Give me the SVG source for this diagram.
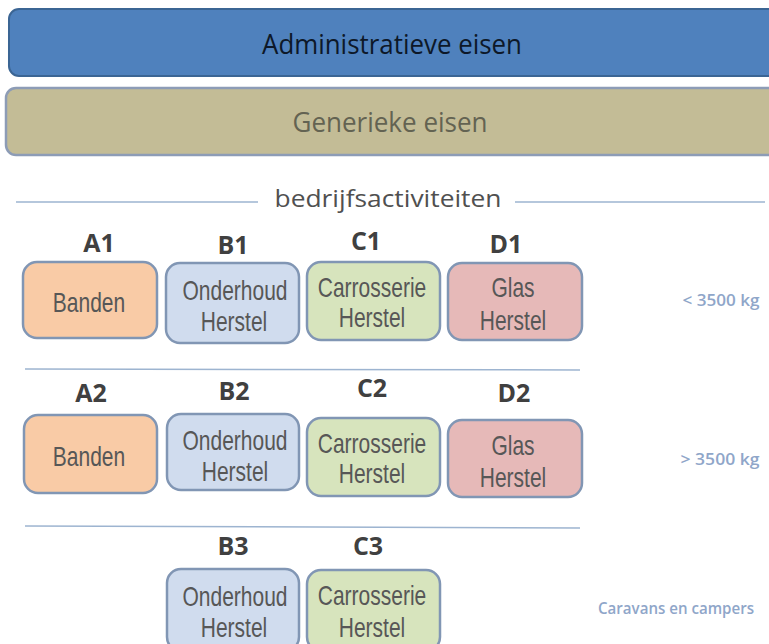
<svg xmlns="http://www.w3.org/2000/svg" width="769" height="644" viewBox="0 0 769 644">
<style>
.box{stroke:#8196b4;stroke-width:2.5}
.or{fill:#f9cba6}
.bl{fill:#d0dcee}
.gr{fill:#d7e4bd}
.rd{fill:#e6b9b8}
.bt{font-family:"Liberation Sans",Arial,sans-serif;font-size:21px;fill:#575757;text-anchor:middle}
.lb{font-family:"Open Sans","Liberation Sans",sans-serif;font-size:25px;font-weight:bold;fill:#404040;text-anchor:middle}
.kg{font-family:"Open Sans","Liberation Sans",sans-serif;font-size:17px;font-weight:600;fill:#8fa6c9;text-anchor:middle}
.sep{stroke:#9db4d0;stroke-width:1.5;fill:none}
</style>
<rect width="769" height="644" fill="#ffffff"/>
<g id="admin">
<rect x="9" y="9" width="772" height="67" rx="10" fill="#4f81bd" stroke="#3b6594" stroke-width="2"/>
<text transform="translate(392,54) scale(1,1.12)" font-family="'Open Sans','Liberation Sans',sans-serif" font-size="25" fill="#0d1828" text-anchor="middle" textLength="260" lengthAdjust="spacingAndGlyphs">Administratieve eisen</text>
</g>
<g id="generiek">
<rect x="6" y="88" width="775" height="67" rx="10" fill="#c3bc96" stroke="#8d9cb6" stroke-width="2.5"/>
<text transform="translate(390,132) scale(1,1.12)" font-family="'Open Sans','Liberation Sans',sans-serif" font-size="25" fill="#636352" text-anchor="middle" textLength="195" lengthAdjust="spacingAndGlyphs">Generieke eisen</text>
</g>
<g id="separators">
<line class="sep" x1="16" y1="202" x2="258" y2="202"/>
<line class="sep" x1="515" y1="202" x2="765" y2="202"/>
<line class="sep" x1="25" y1="369" x2="580" y2="370"/>
<line class="sep" x1="25" y1="526" x2="580" y2="528"/>
</g>
<g id="bedrijfsactiviteiten">
<text x="388" y="207" font-family="'Open Sans','Liberation Sans',sans-serif" font-size="24" fill="#505050" text-anchor="middle" textLength="227" lengthAdjust="spacingAndGlyphs">bedrijfsactiviteiten</text>
</g>
<g id="A1">
<text class="lb" x="99" y="252">A1</text>
<rect class="box or" x="23" y="262" width="134" height="76" rx="14"/>
<text class="bt" transform="translate(89,312) scale(1,1.3)">Banden</text>
</g>
<g id="B1">
<text class="lb" x="233" y="254">B1</text>
<rect class="box bl" x="166" y="263" width="133" height="80" rx="14"/>
<text class="bt" transform="translate(235,300) scale(1,1.3)">Onderhoud</text>
<text class="bt" transform="translate(234,331) scale(1,1.3)">Herstel</text>
</g>
<g id="C1">
<text class="lb" x="366" y="250">C1</text>
<rect class="box gr" x="307" y="262" width="133" height="78" rx="14"/>
<text class="bt" transform="translate(372,297) scale(1,1.3)">Carrosserie</text>
<text class="bt" transform="translate(372,327) scale(1,1.3)">Herstel</text>
</g>
<g id="D1">
<text class="lb" x="506" y="253">D1</text>
<rect class="box rd" x="448" y="263" width="134" height="77" rx="14"/>
<text class="bt" transform="translate(513,297) scale(1,1.3)">Glas</text>
<text class="bt" transform="translate(513,330) scale(1,1.3)">Herstel</text>
</g>
<text class="kg" x="721" y="306" textLength="77" lengthAdjust="spacingAndGlyphs">&lt; 3500 kg</text>
<g id="A2">
<text class="lb" x="91" y="402">A2</text>
<rect class="box or" x="24" y="415" width="133" height="78" rx="14"/>
<text class="bt" transform="translate(89,466) scale(1,1.3)">Banden</text>
</g>
<g id="B2">
<text class="lb" x="234" y="400">B2</text>
<rect class="box bl" x="167" y="414" width="132" height="76" rx="14"/>
<text class="bt" transform="translate(235,450) scale(1,1.3)">Onderhoud</text>
<text class="bt" transform="translate(235,481) scale(1,1.3)">Herstel</text>
</g>
<g id="C2">
<text class="lb" x="372" y="397">C2</text>
<rect class="box gr" x="307" y="418" width="133" height="78" rx="14"/>
<text class="bt" transform="translate(372,453) scale(1,1.3)">Carrosserie</text>
<text class="bt" transform="translate(372,483) scale(1,1.3)">Herstel</text>
</g>
<g id="D2">
<text class="lb" x="514" y="402">D2</text>
<rect class="box rd" x="448" y="420" width="134" height="77" rx="14"/>
<text class="bt" transform="translate(513,455) scale(1,1.3)">Glas</text>
<text class="bt" transform="translate(513,487) scale(1,1.3)">Herstel</text>
</g>
<text class="kg" x="720" y="465" textLength="79" lengthAdjust="spacingAndGlyphs">&gt; 3500 kg</text>
<g id="B3">
<text class="lb" x="233" y="555">B3</text>
<rect class="box bl" x="167" y="569" width="132" height="82" rx="14"/>
<text class="bt" transform="translate(235,606) scale(1,1.3)">Onderhoud</text>
<text class="bt" transform="translate(234,637) scale(1,1.3)">Herstel</text>
</g>
<g id="C3">
<text class="lb" x="368" y="555">C3</text>
<rect class="box gr" x="307" y="570" width="133" height="81" rx="14"/>
<text class="bt" transform="translate(372,605) scale(1,1.3)">Carrosserie</text>
<text class="bt" transform="translate(372,637) scale(1,1.3)">Herstel</text>
</g>
<text class="kg" x="676" y="614" font-size="15" textLength="156" lengthAdjust="spacingAndGlyphs">Caravans en campers</text>
</svg>
